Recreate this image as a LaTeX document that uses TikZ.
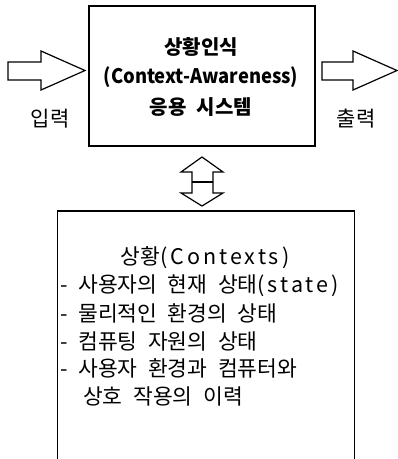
\documentclass[tikz,border=0pt]{standalone}
\usepackage{fontspec}
\usepackage{graphicx}
\setmainfont[WordSpace=2.2]{Noto Sans CJK KR}
\newfontfamily\latsp[LetterSpace=14,WordSpace=2.2]{Noto Sans CJK KR}
\usetikzlibrary{calc}
\begin{document}
\begin{tikzpicture}[x=1pt,y=-1pt,
  blockarrow/.style={draw, line width=1.2pt, line join=miter, fill=white},
  title/.style={font=\fontsize{20}{24}\selectfont\bfseries, inner sep=0pt},
  lbl/.style={font=\fontsize{21}{24}\selectfont, inner sep=0pt},
  item/.style={font=\fontsize{21.5}{24}\selectfont, inner sep=0pt, anchor=west}]
\useasboundingbox[fill=white] (0,0) rectangle (398,459);
% main system box
\node[draw, line width=2.8pt, minimum width=226pt, minimum height=140pt, inner sep=0pt] (sys) at (202,76) {};
\node[title] (t1) at (201,47) {상황인식};
\node[title] (t2) at (201,77) {\scalebox{0.92}[1]{(Context-Awareness)}};
\node[title] (t3) at (201,107) {응용 시스템};
% input / output arrows
\draw[blockarrow] (8,62) -- (41,62) -- (41,51) -- (85,70.5) -- (41,90) -- (41,80) -- (8,80) -- cycle;
\draw[blockarrow] (322,62) -- (353,62) -- (353,51) -- (397,70.5) -- (353,90) -- (353,80) -- (322,80) -- cycle;
\node[lbl] (in) at (50,119) {입력};
\node[lbl] (out) at (356,119) {출력};
% context box
\node[draw, line width=1.3pt, minimum width=297pt, minimum height=270pt, inner sep=0pt] (ctx) at (206,346) {};
% double arrow between boxes
\draw[blockarrow] (202,157) -- (223,172) -- (213,172) -- (213,193) -- (223,193) -- (202,206)
  -- (181,193) -- (192,193) -- (192,172) -- (181,172) -- cycle;
\draw[line width=1.2pt] (192,182) -- (213,182);
% context texts
\node[item, anchor=center] (c0) at (205,258) {상황{\latsp(Contexts)}};
\node[item] (c1) at (60,286) {- 사용자의 현재 상태{\latsp(state)}};
\node[item] (c2) at (60,313) {- 물리적인 환경의 상태};
\node[item] (c3) at (60,341) {- 컴퓨팅 자원의 상태};
\node[item] (c4) at (60,368) {- 사용자 환경과 컴퓨터와};
\node[item] (c5) at (83,396) {상호 작용의 이력};
\end{tikzpicture}
\end{document}
